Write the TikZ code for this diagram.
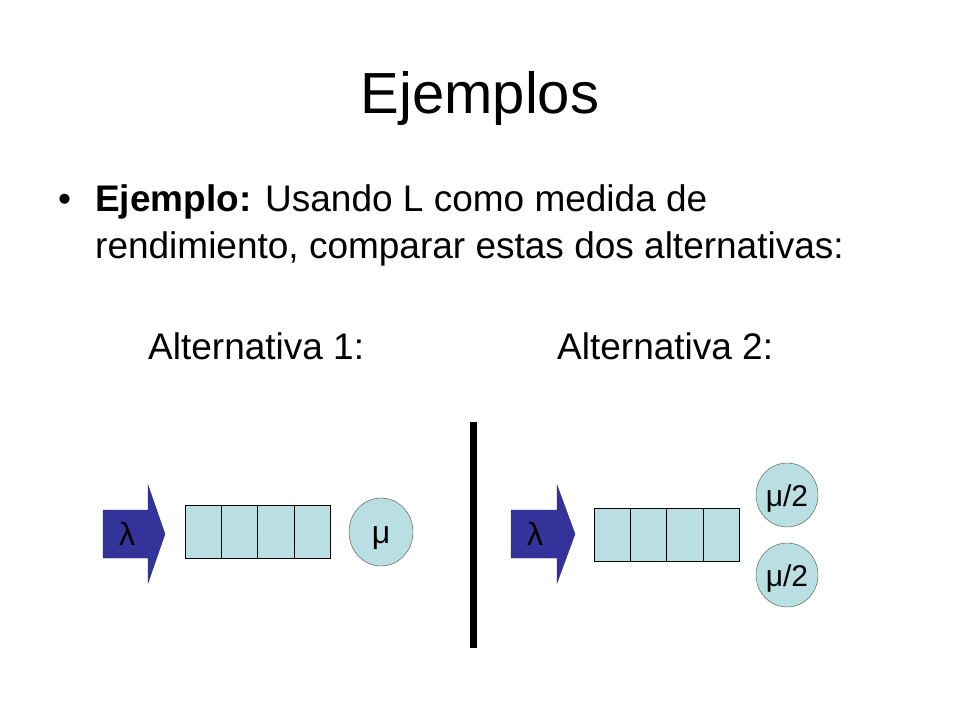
\documentclass[tikz,border=0pt]{standalone}
\usepackage{fontspec}
\setmainfont{Liberation Sans}
\begin{document}
\begin{tikzpicture}[x=1pt,y=-1pt,
  txt/.style={inner sep=0pt,anchor=base west,font=\fontsize{37}{42}\selectfont}]
\definecolor{qc}{RGB}{185,223,227}
\definecolor{ac}{RGB}{51,51,153}
\useasboundingbox (0,0) rectangle (960,720);
\node[inner sep=0pt,anchor=base,font=\fontsize{58}{64}\selectfont] (title) at (480,113) {Ejemplos};
\node[txt] (b) at (58,211) {•};
\node[txt] (l1) at (95,211) {\textbf{Ejemplo:} Usando L como medida de};
\node[txt] (l2) at (95,258) {rendimiento, comparar estas dos alternativas:};
\node[txt] (a1) at (148,359) {Alternativa 1:};
\node[txt] (a2) at (557,359) {Alternativa 2:};
% arrows
\draw[fill=ac,draw=ac!80!black] (103,510) -- (148,510) -- (148,485) -- (165,534) -- (148,583) -- (148,558) -- (103,558) -- cycle;
\node[inner sep=0pt,anchor=base,font=\fontsize{32}{36}\selectfont] (lam1) at (127,545) {λ};
\draw[fill=ac,draw=ac!80!black] (511,510) -- (557,510) -- (557,485) -- (575,534) -- (557,583) -- (557,558) -- (511,558) -- cycle;
\node[inner sep=0pt,anchor=base,font=\fontsize{32}{36}\selectfont] (lam2) at (535,545) {λ};
% queues
\foreach \i in {0,1,2,3} {
  \draw[fill=qc,draw=black] (185+36.25*\i,505) rectangle (185+36.25*\i+36.25,558);
  \draw[fill=qc,draw=black] (594+36.25*\i,508) rectangle (594+36.25*\i+36.25,561);
}
% servers
\draw[fill=qc,draw=black!70] (381,532) ellipse (32 and 34);
\node[inner sep=0pt,anchor=base,font=\fontsize{32}{36}\selectfont] (mu) at (381,543) {μ};
\draw[fill=qc,draw=black!70] (787,495) ellipse (31 and 32);
\node[inner sep=0pt,anchor=base,font=\fontsize{30}{34}\selectfont] (mu1) at (787,506) {μ/2};
\draw[fill=qc,draw=black!70] (787,575) ellipse (31 and 32);
\node[inner sep=0pt,anchor=base,font=\fontsize{30}{34}\selectfont] (mu2) at (787,586) {μ/2};
% divider
\fill (470,422) rectangle (477,648);
\end{tikzpicture}
\end{document}
